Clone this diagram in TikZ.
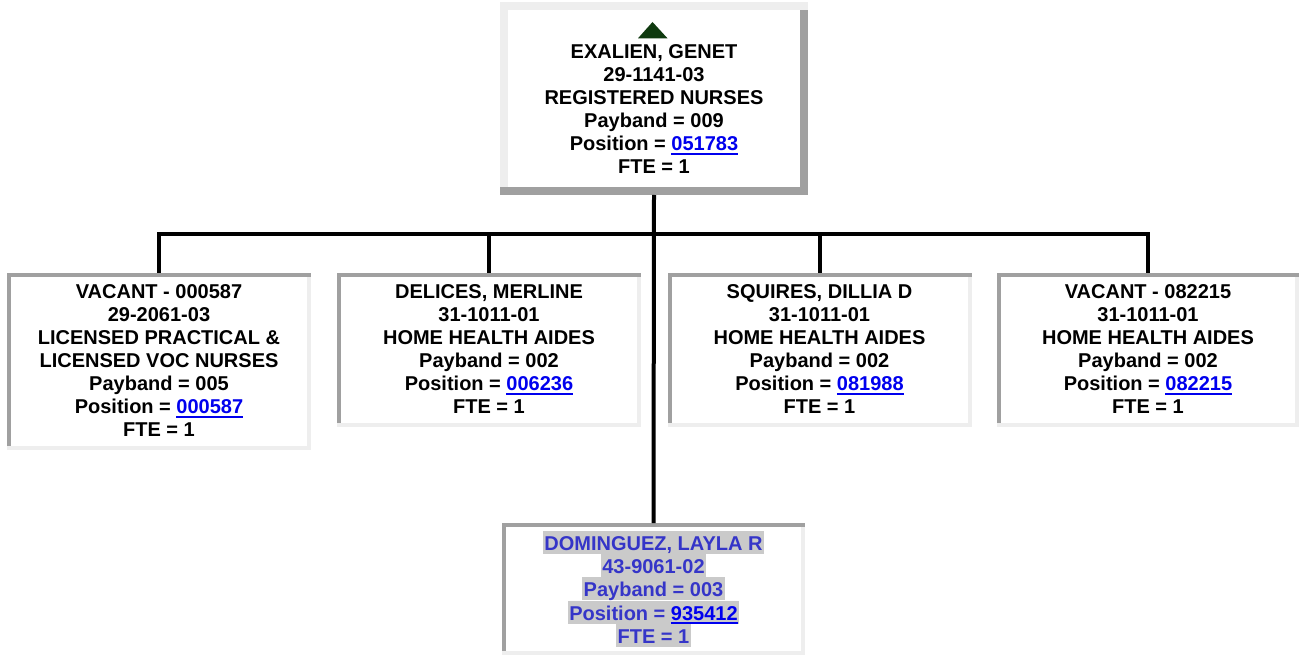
\documentclass[tikz,border=0pt]{standalone}
\usepackage{fontspec}
\setmainfont{Liberation Sans}
\usetikzlibrary{calc}
\definecolor{bddark}{HTML}{A0A0A0}
\definecolor{bdlight}{HTML}{EEEEEE}
\definecolor{lnkblue}{HTML}{0000EE}
\definecolor{selblue}{HTML}{3535C8}
\definecolor{hlgray}{HTML}{CACACA}
\definecolor{trigreen}{HTML}{0F3A0F}
\newcommand\lnk[1]{\textcolor{lnkblue}{\setbox0\hbox{#1}\rlap{\rule[-3.6pt]{\wd0}{1.9pt}}\box0}}
\newcommand\hlline[1]{{\fboxsep=0pt\colorbox{hlgray}{\kern1.5pt\rule[-4pt]{0pt}{23pt}#1\kern1.5pt}}}
\newcommand\insetbd[2]{%
  \fill[bdlight] ($(#1.south west)+(0,-#2)$) rectangle (#1.south east);
  \fill[bdlight] ($(#1.north east)+(-#2,0)$) rectangle (#1.south east);
  \fill[bddark] (#1.north west) rectangle ($(#1.north east)+(0,#2)$);
  \fill[bddark] (#1.north west) rectangle ($(#1.south west)+(#2,-#2)$);
}
\begin{document}
\begin{tikzpicture}[x=1pt,y=-1pt,
  box/.style={fill=white, inner sep=0pt, outer sep=0pt, anchor=north west, minimum width=304pt},
  txt/.style={inner sep=0pt, outer sep=0pt, align=center, anchor=north, font=\fontsize{20}{23}\selectfont\bfseries},
  conn/.style={line width=4pt, draw=black, line join=miter}]
\useasboundingbox (0,0) rectangle (1299,655);

% top box (outset border)
\node[box, minimum width=308pt, minimum height=193pt] (t) at (500,2) {};
\fill[bdlight] (t.north west) rectangle ($(t.north east)+(0,8)$);
\fill[bdlight] (t.north west) rectangle ($(t.south west)+(8,0)$);
\fill[bddark] ($(t.north east)+(-8,8)$) rectangle (t.south east);
\fill[bddark] ($(t.south west)+(0,-8)$) rectangle (t.south east);
\fill[trigreen] (652.5,22) -- (667.5,38.3) -- (638,38.3) -- cycle;
\node[txt] (tt) at ($(t.north)+(0,43)$) {EXALIEN, GENET\\29-1141-03\\REGISTERED NURSES\\Payband = 009\\Position = \lnk{051783}\\FTE = 1};

% second level
\node[box, minimum height=177pt] (b1) at (7,273) {};
\insetbd{b1}{4}
\node[txt] (t1) at ($(b1.north)+(0,12)$) {VACANT - 000587\\29-2061-03\\LICENSED PRACTICAL \&\\LICENSED VOC NURSES\\Payband = 005\\Position = \lnk{000587}\\FTE = 1};

\node[box, minimum height=154pt] (b2) at (337,273) {};
\insetbd{b2}{4}
\node[txt] (t2) at ($(b2.north)+(0,12)$) {DELICES, MERLINE\\31-1011-01\\HOME HEALTH AIDES\\Payband = 002\\Position = \lnk{006236}\\FTE = 1};

\node[box, minimum height=154pt] (b3) at (667.5,273) {};
\insetbd{b3}{4}
\node[txt] (t3) at ($(b3.north)+(0,12)$) {SQUIRES, DILLIA D\\31-1011-01\\HOME HEALTH AIDES\\Payband = 002\\Position = \lnk{081988}\\FTE = 1};

\node[box, minimum width=302pt, minimum height=154pt] (b4) at (997,273) {};
\insetbd{b4}{4}
\node[txt] (t4) at ($(b4.north)+(0,12)$) {VACANT - 082215\\31-1011-01\\HOME HEALTH AIDES\\Payband = 002\\Position = \lnk{082215}\\FTE = 1};

% bottom (selected) box
\node[box, minimum width=303pt, minimum height=132pt] (d) at (502,523) {};
\insetbd{d}{4}
\node[txt, text=selblue] (td) at ($(d.north)+(0,8)$) {\hlline{DOMINGUEZ, LAYLA R}\\\hlline{43-9061-02}\\\hlline{Payband = 003}\\\hlline{Position = \lnk{935412}}\\\hlline{FTE = 1}};

% connectors
\coordinate (bus) at (654,234.5);
\draw[conn] (t.south) -- (d.north);
\draw[conn] (b1.north) |- (bus) -| (b4.north);
\draw[conn] (b2.north) -- (b2.north |- bus);
\draw[conn] (b3.north) -- (b3.north |- bus);
\end{tikzpicture}
\end{document}
